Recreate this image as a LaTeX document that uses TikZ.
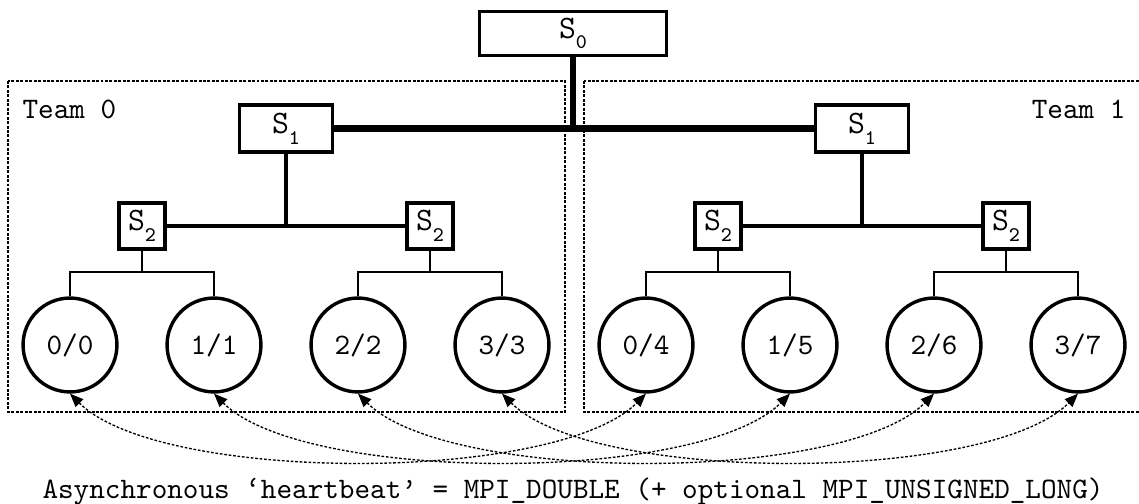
\documentclass[tikz,border=0pt]{standalone}
\usetikzlibrary{arrows.meta}

% switch name: typewriter S with a dropped small index
\newcommand{\sw}[1]{S\raisebox{-3.6pt}{\scriptsize #1}}

\tikzset{
  switch/.style={draw, line width=1.15pt, inner sep=0pt,
    font=\ttfamily\fontsize{11}{13}\selectfont},
  rootsw/.style={switch, minimum width=62.8pt, minimum height=14.7pt},
  midsw/.style={switch, minimum width=31.2pt, minimum height=15.7pt},
  leafsw/.style={switch, minimum width=15.4pt, minimum height=15.4pt},
  proc/.style={circle, draw, line width=1.15pt, minimum size=31.6pt,
    inner sep=0pt, font=\ttfamily},
  trunk/.style={line width=2.2pt},
  branch/.style={line width=1.3pt},
  twig/.style={line width=0.6pt},
  teambox/.style={line width=0.5pt, dash pattern=on 1pt off 0.5pt},
  beat/.style={line width=0.45pt, dash pattern=on 0.9pt off 0.6pt,
    {Triangle[length=4.5pt,width=3.6pt]}-{Triangle[length=4.5pt,width=3.6pt]}},
  label/.style={font=\ttfamily, inner sep=0pt}
}

\begin{document}
\begin{tikzpicture}[x=0.3365pt, y=-0.3365pt]
  \useasboundingbox (0,0) rectangle (1139,504);
  \clip (0,0) rectangle (1139,504);

  % team enclosures
  \draw[teambox] (8,81) rectangle (565,412);
  \draw[teambox] (584,81) rectangle (1150,412);
  \node[label, anchor=base west] (t0) at (22,118.5) {Team 0};
  \node[label, anchor=base east] (t1) at (1126,118.5) {Team 1};

  % switch hierarchy
  \node[rootsw] (s0) at (573,33.5) {\sw{0}};
  \node[midsw] (s1a) at (286,128.5) {\sw{1}};
  \node[midsw] (s1b) at (862,128.5) {\sw{1}};
  \node[leafsw] (s2a) at (142,226) {\sw{2}};
  \node[leafsw] (s2b) at (430,226) {\sw{2}};
  \node[leafsw] (s2c) at (718,226) {\sw{2}};
  \node[leafsw] (s2d) at (1006,226) {\sw{2}};

  % processes (local rank / global rank)
  \node[proc] (c0) at (70,345) {0/0};
  \node[proc] (c1) at (214,345) {1/1};
  \node[proc] (c2) at (358,345) {2/2};
  \node[proc] (c3) at (502,345) {3/3};
  \node[proc] (c4) at (646,345) {0/4};
  \node[proc] (c5) at (790,345) {1/5};
  \node[proc] (c6) at (934,345) {2/6};
  \node[proc] (c7) at (1078,345) {3/7};

  % top-level links
  \draw[trunk] (s1a.east) -- (s1b.west);
  \draw[trunk] (s0.south) -- (s0.south |- s1a.east);

  % second-level links
  \draw[branch] (s2a.east) -- (s2b.west);
  \draw[branch] (s1a.south) -- (s1a.south |- s2a.east);
  \draw[branch] (s2c.east) -- (s2d.west);
  \draw[branch] (s1b.south) -- (s1b.south |- s2c.east);

  % links down to the processes
  \coordinate (ja) at (142,272);
  \coordinate (jb) at (430,272);
  \coordinate (jc) at (718,272);
  \coordinate (jd) at (1006,272);
  \draw[twig] (s2a.south) -- (ja);
  \draw[twig] (c0.north) |- (ja) -| (c1.north);
  \draw[twig] (s2b.south) -- (jb);
  \draw[twig] (c2.north) |- (jb) -| (c3.north);
  \draw[twig] (s2c.south) -- (jc);
  \draw[twig] (c4.north) |- (jc) -| (c5.north);
  \draw[twig] (s2d.south) -- (jd);
  \draw[twig] (c6.north) |- (jd) -| (c7.north);

  % heartbeat exchange between partner ranks
  \draw[beat] (c0.south) .. controls +(90,90) and +(-90,90) .. (c4.south);
  \draw[beat] (c1.south) .. controls +(90,90) and +(-90,90) .. (c5.south);
  \draw[beat] (c2.south) .. controls +(90,90) and +(-90,90) .. (c6.south);
  \draw[beat] (c3.south) .. controls +(90,90) and +(-90,90) .. (c7.south);

  \node[label, anchor=base] (note) at (573,498)
    {Asynchronous ‘heartbeat’ = MPI\_DOUBLE (+ optional MPI\_UNSIGNED\_LONG)};
\end{tikzpicture}
\end{document}
